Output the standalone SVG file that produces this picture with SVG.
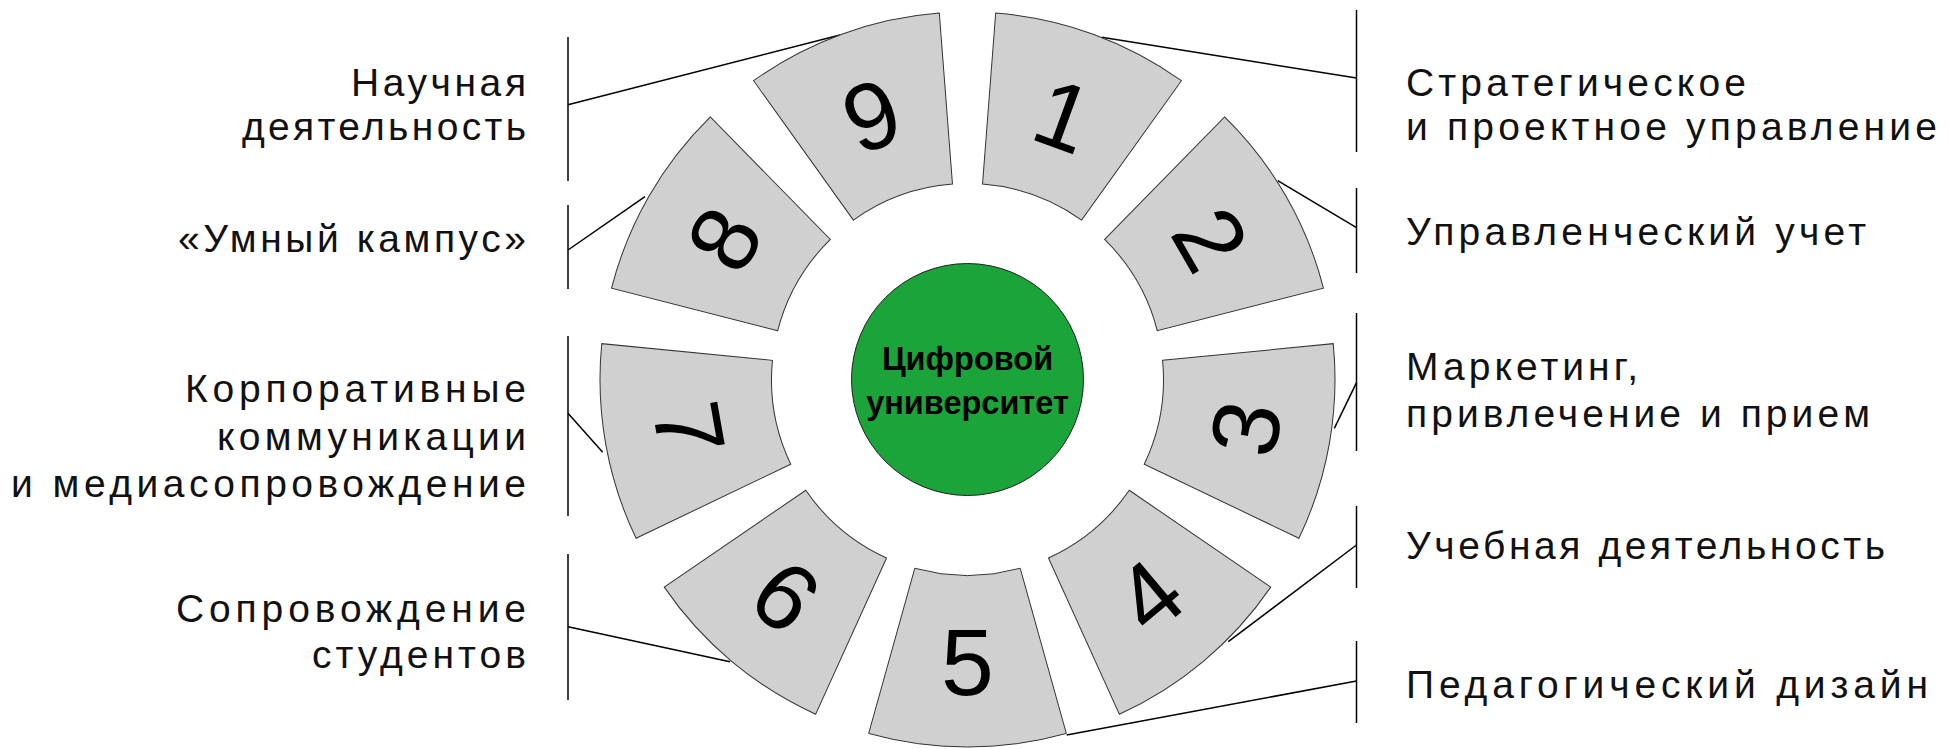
<svg xmlns="http://www.w3.org/2000/svg" xmlns:xlink="http://www.w3.org/1999/xlink" width="1949" height="749" viewBox="0 0 1949 749">
<style>
.sec{fill:#d0d0d0;stroke:#333;stroke-width:1}
.num{font-family:"Liberation Sans",Arial,sans-serif;font-size:95px;text-anchor:middle;fill:#000}
.lbl{font-family:"Liberation Sans",Arial,sans-serif;font-size:39px;fill:#111}
.end{text-anchor:end}
.conn{stroke:#000;stroke-width:1.5;fill:none}
.vline{stroke:#000;stroke-width:1.5;fill:none}
.ctr{font-family:"Liberation Sans",Arial,sans-serif;font-size:32.5px;font-weight:bold;text-anchor:middle;fill:#000}
</style>
<defs>
<path id="sec" d="M -52.71,-188.78 L -98.83,-353.96 A 367.5 367.5 0 0 1 98.83,-353.96 L 52.71,-188.78 A 196 196 0 0 0 -52.71,-188.78 Z"/>
</defs>
<rect width="1949" height="749" fill="#fff"/>
<g id="connectors">
<line class="conn" x1="1356.5" y1="78" x2="1101.7" y2="37.3"/>
<line class="conn" x1="1356.5" y1="227.7" x2="1277.7" y2="180.7"/>
<line class="conn" x1="1356.5" y1="382.7" x2="1334.3" y2="428.3"/>
<line class="conn" x1="1356.5" y1="545" x2="1228.3" y2="641.7"/>
<line class="conn" x1="1356.5" y1="681" x2="1066.7" y2="735"/>
<line class="conn" x1="568" y1="626.7" x2="730" y2="661.7"/>
<line class="conn" x1="568" y1="413.2" x2="602.7" y2="452.3"/>
<line class="conn" x1="568" y1="250" x2="645" y2="196.7"/>
<line class="conn" x1="568" y1="104.8" x2="840" y2="35"/>
</g>
<g id="node-1" transform="translate(967.5 379.5) rotate(20)"><use xlink:href="#sec" href="#sec" class="sec"/><text class="num" transform="translate(0 -281.75)" y="34">1</text></g>
<g id="node-2" transform="translate(967.5 379.5) rotate(60)"><use xlink:href="#sec" href="#sec" class="sec"/><text class="num" transform="translate(0 -281.75)" y="34">2</text></g>
<g id="node-3" transform="translate(967.5 379.5) rotate(100)"><use xlink:href="#sec" href="#sec" class="sec"/><text class="num" transform="translate(0 -281.75) rotate(180)" y="34">3</text></g>
<g id="node-4" transform="translate(967.5 379.5) rotate(140)"><use xlink:href="#sec" href="#sec" class="sec"/><text class="num" transform="translate(0 -281.75) rotate(180)" y="34">4</text></g>
<g id="node-5" transform="translate(967.5 379.5) rotate(180)"><use xlink:href="#sec" href="#sec" class="sec"/><text class="num" transform="translate(0 -281.75) rotate(180)" y="34">5</text></g>
<g id="node-6" transform="translate(967.5 379.5) rotate(220)"><use xlink:href="#sec" href="#sec" class="sec"/><text class="num" transform="translate(0 -281.75) rotate(180)" y="34">6</text></g>
<g id="node-7" transform="translate(967.5 379.5) rotate(260)"><use xlink:href="#sec" href="#sec" class="sec"/><text class="num" transform="translate(0 -281.75) rotate(180)" y="34">7</text></g>
<g id="node-8" transform="translate(967.5 379.5) rotate(300)"><use xlink:href="#sec" href="#sec" class="sec"/><text class="num" transform="translate(0 -281.75)" y="34">8</text></g>
<g id="node-9" transform="translate(967.5 379.5) rotate(340)"><use xlink:href="#sec" href="#sec" class="sec"/><text class="num" transform="translate(0 -281.75)" y="34">9</text></g>
<g id="center">
<circle cx="967.5" cy="379.5" r="116" fill="#1ba43a" stroke="#222" stroke-width="1"/>
<text class="ctr"><tspan x="967.5" y="370">Цифровой</tspan><tspan x="967.5" y="414">университет</tspan></text>
</g>
<g id="label-1"><line class="vline" x1="1356.5" y1="10" x2="1356.5" y2="152"/>
<text class="lbl" x="1406" y="96" textLength="340">Стратегическое</text>
<text class="lbl" x="1406" y="140" textLength="531">и проектное управление</text></g>
<g id="label-2"><line class="vline" x1="1356.5" y1="188" x2="1356.5" y2="273"/>
<text class="lbl" x="1406" y="245" textLength="460">Управленческий учет</text></g>
<g id="label-3"><line class="vline" x1="1356.5" y1="313" x2="1356.5" y2="451"/>
<text class="lbl" x="1406" y="380" textLength="232">Маркетинг,</text>
<text class="lbl" x="1406" y="427" textLength="464">привлечение и прием</text></g>
<g id="label-4"><line class="vline" x1="1356.5" y1="506" x2="1356.5" y2="588"/>
<text class="lbl" x="1406" y="559" textLength="479">Учебная деятельность</text></g>
<g id="label-5"><line class="vline" x1="1356.5" y1="641" x2="1356.5" y2="723"/>
<text class="lbl" x="1406" y="698" textLength="522">Педагогический дизайн</text></g>
<g id="label-6"><line class="vline" x1="568" y1="554" x2="568" y2="700"/>
<text class="lbl end" x="526" y="622" textLength="350">Сопровождение</text>
<text class="lbl end" x="526" y="668" textLength="214">студентов</text></g>
<g id="label-7"><line class="vline" x1="568" y1="336" x2="568" y2="516"/>
<text class="lbl end" x="526" y="402" textLength="341">Корпоративные</text>
<text class="lbl end" x="526" y="450" textLength="309">коммуникации</text>
<text class="lbl end" x="526" y="497" textLength="515">и медиасопровождение</text></g>
<g id="label-8"><line class="vline" x1="568" y1="205" x2="568" y2="289"/>
<text class="lbl end" x="526" y="252" textLength="348">«Умный кампус»</text></g>
<g id="label-9"><line class="vline" x1="568" y1="37" x2="568" y2="181"/>
<text class="lbl end" x="526" y="96" textLength="175">Научная</text>
<text class="lbl end" x="526" y="140" textLength="284">деятельность</text></g>
</svg>
